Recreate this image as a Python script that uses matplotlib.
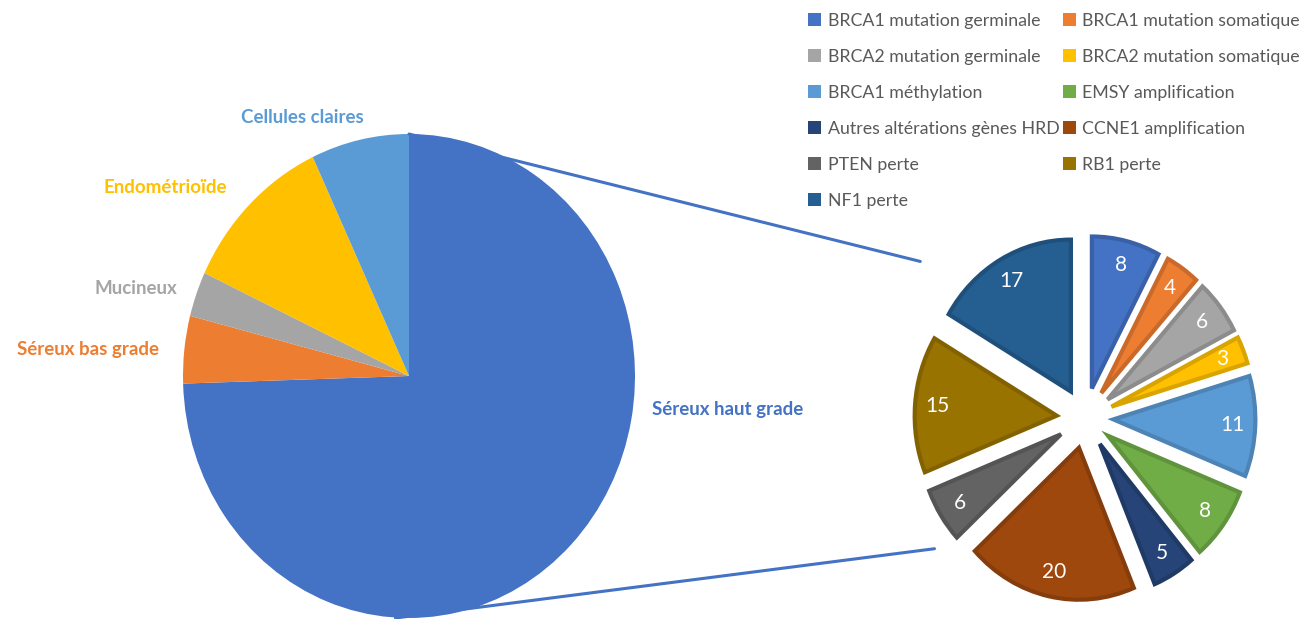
import matplotlib.pyplot as plt
from matplotlib.patches import ConnectionPatch, Patch
from matplotlib.colors import to_rgb

plt.rcParams['font.family'] = ['Lato', 'DejaVu Sans']

types = ['Séreux haut grade', 'Séreux bas grade', 'Mucineux', 'Endométrioïde', 'Cellules claires']
type_values = [74.5, 4.5, 3, 11, 7]
type_colors = ['#4472C4', '#ED7D31', '#A5A5A5', '#FFC000', '#5B9BD5']

alterations = ['BRCA1 mutation germinale', 'BRCA1 mutation somatique',
               'BRCA2 mutation germinale', 'BRCA2 mutation somatique',
               'BRCA1 méthylation', 'EMSY amplification',
               'Autres altérations gènes HRD', 'CCNE1 amplification',
               'PTEN perte', 'RB1 perte', 'NF1 perte']
alt_values = [8, 4, 6, 3, 11, 8, 5, 20, 6, 15, 17]
alt_colors = ['#4472C4', '#ED7D31', '#A5A5A5', '#FFC000', '#5B9BD5', '#70AD47',
              '#264478', '#9E480E', '#636363', '#997300', '#255E91']


def darker(c, f=0.85):
    r, g, b = to_rgb(c)
    return (r * f, g * f, b * f)


W, H = 1314, 619
fig = plt.figure(figsize=(W / 100, H / 100), dpi=100)

# main pie: centre (409, 376) px, radii 226 x 242 px
cx, cy, rx, ry = 409, 376, 226, 242
ax1 = fig.add_axes([(cx - rx) / W, (H - cy - ry) / H, 2 * rx / W, 2 * ry / H])
ax1.pie(type_values, colors=type_colors, startangle=90, counterclock=False,
        wedgeprops=dict(linewidth=0))
ax1.set_aspect('auto')
ax1.set_xlim(-1, 1)
ax1.set_ylim(-1, 1)
ax1.axis('off')

lab_pos = {'Séreux haut grade': (1.41, -0.14), 'Séreux bas grade': (-1.42, 0.11),
           'Mucineux': (-1.21, 0.36), 'Endométrioïde': (-1.08, 0.78),
           'Cellules claires': (-0.47, 1.07)}
for name, col in zip(types, type_colors):
    x, y = lab_pos[name]
    ax1.text(x, y, name, color=col, fontsize=13.5, fontweight='bold',
             ha='center', va='center', clip_on=False)

# detail pie: centre (1085, 418) px, radii 142 x 152 px
dx, dy, drx, dry = 1085, 418, 142, 152
lim = 1.4
ax2 = fig.add_axes([(dx - lim * drx) / W, (H - dy - lim * dry) / H,
                    2 * lim * drx / W, 2 * lim * dry / H])
wedges, texts = ax2.pie(alt_values, colors=alt_colors, startangle=90, counterclock=False,
                        explode=[0.2] * len(alt_values),
                        labels=[str(v) for v in alt_values], labeldistance=0.84,
                        textprops=dict(color='white', fontsize=15))
for w, c in zip(wedges, alt_colors):
    w.set_edgecolor(darker(c))
    w.set_linewidth(3)
for t in texts:
    t.set_ha('center')
    t.set_va('center')
ax2.set_aspect('auto')
ax2.set_xlim(-lim, lim)
ax2.set_ylim(-lim, lim)
ax2.axis('off')

for pa, pb in [((0.0, 1.0), (-1.16, 1.03)), ((-0.06, -1.0), (-1.06, -0.86))]:
    con = ConnectionPatch(xyA=pa, coordsA=ax1.transData, xyB=pb, coordsB=ax2.transData,
                          color='#4472C4', linewidth=2.2)
    fig.add_artist(con)

# legend filled row by row (matplotlib fills columns, so reorder)
handles = [Patch(facecolor=c, edgecolor='none') for c in alt_colors]
order = list(range(0, len(alterations), 2)) + list(range(1, len(alterations), 2))
fig.legend([handles[i] for i in order], [alterations[i] for i in order],
           ncol=2, loc='upper left',
           bbox_to_anchor=(792 / W, 1 + 3 / H), frameon=False, fontsize=12.8,
           handlelength=0.75, handleheight=0.75, handletextpad=0.35,
           labelspacing=1.12, columnspacing=0.2, labelcolor='#595959')

fig.savefig('out.png', dpi=100)
